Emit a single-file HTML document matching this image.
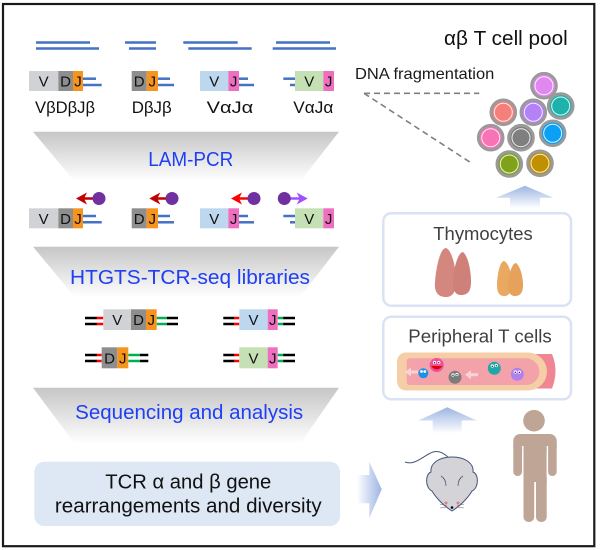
<!DOCTYPE html>
<html><head><meta charset="utf-8"><style>
html,body{margin:0;padding:0;background:#fff;}
svg{display:block;}
text{font-family:"Liberation Sans",Arial,sans-serif;}
</style></head><body>
<svg width="600" height="550" viewBox="0 0 600 550" xmlns="http://www.w3.org/2000/svg">
<defs>
<linearGradient id="fun" x1="0" y1="0" x2="0" y2="1"><stop offset="0" stop-color="#c6c6c6"/><stop offset="1" stop-color="#ffffff"/></linearGradient>
<linearGradient id="upg" x1="0" y1="0" x2="0" y2="1"><stop offset="0" stop-color="#9db5e2"/><stop offset="1" stop-color="#ffffff"/></linearGradient>
<linearGradient id="rtg" x1="0" y1="0" x2="1" y2="0"><stop offset="0" stop-color="#ffffff"/><stop offset="1" stop-color="#9db5e2"/></linearGradient>
</defs>
<rect x="0" y="0" width="600" height="550" fill="#fff"/>
<rect x="3" y="4" width="591.3" height="542.2" fill="none" stroke="#1a1a1a" stroke-width="2.2"/>

<!-- top blue DNA lines -->
<g stroke="#4472c4" stroke-width="2.5">
<line x1="36" y1="42.5" x2="90" y2="42.5"/><line x1="36" y1="48.5" x2="99" y2="48.5"/>
<line x1="125" y1="42.5" x2="156" y2="42.5"/><line x1="129" y1="48.5" x2="156" y2="48.5"/>
<line x1="183.3" y1="42.5" x2="237.7" y2="42.5"/><line x1="188.3" y1="48.5" x2="251.7" y2="48.5"/>
<line x1="276" y1="42.5" x2="330" y2="42.5"/><line x1="272.7" y1="48.5" x2="336" y2="48.5"/>
</g>

<!-- gene row A and row B -->
<g id="rowA">
<rect x="29" y="71" width="29.3" height="20" fill="#d1d2d6"/>
<rect x="58.3" y="71" width="14.7" height="20" fill="#8e8e8e"/>
<rect x="73" y="71" width="10" height="20" fill="#f7941d"/>
<rect x="131.7" y="71" width="15" height="20" fill="#8e8e8e"/>
<rect x="146.7" y="71" width="11.3" height="20" fill="#f7941d"/>
<rect x="200" y="71" width="28.3" height="20" fill="#bdd7ee"/>
<rect x="228.3" y="71" width="10.7" height="20" fill="#f06ec0"/>
<rect x="295" y="71" width="28.3" height="20" fill="#c5e0b4"/>
<rect x="323.3" y="71" width="10.7" height="20" fill="#f06ec0"/>
<g stroke="#4472c4" stroke-width="2.5">
<line x1="83" y1="78.7" x2="96" y2="78.7"/><line x1="83" y1="85" x2="101.7" y2="85"/>
<line x1="158" y1="78.7" x2="170" y2="78.7"/><line x1="158" y1="85" x2="174" y2="85"/>
<line x1="239" y1="78.7" x2="248" y2="78.7"/><line x1="239" y1="85" x2="254" y2="85"/>
<line x1="283.3" y1="78.7" x2="295" y2="78.7"/><line x1="290" y1="85" x2="295" y2="85"/>
</g>
<g font-size="15" fill="#111" text-anchor="middle">
<text x="43.6" y="86.5">V</text><text x="65.6" y="86.5">D</text><text x="78" y="86.5">J</text>
<text x="139.2" y="86.5">D</text><text x="152.3" y="86.5">J</text>
<text x="214.2" y="86.5">V</text><text x="233.6" y="86.5">J</text>
<text x="309.2" y="86.5">V</text><text x="328.6" y="86.5">J</text>
</g>
</g>
<use href="#rowA" transform="translate(0,137.3)"/>

<!-- labels -->
<g font-size="17" fill="#111" text-anchor="middle">
<text x="65" y="113" textLength="60" lengthAdjust="spacingAndGlyphs">VβDβJβ</text>
<text x="151.7" y="113" textLength="40" lengthAdjust="spacingAndGlyphs">DβJβ</text>
<text x="230" y="113" textLength="46.6" lengthAdjust="spacingAndGlyphs">VαJα</text>
<text x="313.3" y="113" textLength="40" lengthAdjust="spacingAndGlyphs">VαJα</text>
</g>

<!-- funnels -->
<polygon points="33,131.7 339,131.7 300,181.7 75,181.7" fill="url(#fun)"/>
<polygon points="33,246.7 339,246.7 300,297.3 75,297.3" fill="url(#fun)"/>
<polygon points="33,387.7 339,387.7 300,444 75,444" fill="url(#fun)"/>
<g fill="#1e3ff5" font-size="20" text-anchor="middle">
<text x="190.8" y="166" textLength="85" lengthAdjust="spacingAndGlyphs">LAM-PCR</text>
<text x="190" y="284" textLength="240" lengthAdjust="spacingAndGlyphs">HTGTS-TCR-seq libraries</text>
<text x="189.2" y="419" textLength="228" lengthAdjust="spacingAndGlyphs">Sequencing and analysis</text>
</g>

<!-- primer arrows -->
<g>
<line x1="84" y1="198.5" x2="94" y2="198.5" stroke="#c00000" stroke-width="2.5"/>
<polygon points="76,198.5 87,192.5 84,198.5 87,204.5" fill="#c00000"/>
<circle cx="99" cy="198.5" r="6.5" fill="#7030a0"/>
<line x1="157.3" y1="198.5" x2="167" y2="198.5" stroke="#c00000" stroke-width="2.5"/>
<polygon points="149.3,198.5 160.3,192.5 157.3,198.5 160.3,204.5" fill="#c00000"/>
<circle cx="172" cy="198.5" r="6.5" fill="#7030a0"/>
<line x1="239" y1="198.5" x2="249" y2="198.5" stroke="#ff0000" stroke-width="2.5"/>
<polygon points="231,198.5 242,192.5 239,198.5 242,204.5" fill="#ff0000"/>
<circle cx="254" cy="198.5" r="6.5" fill="#7030a0"/>
<line x1="289" y1="198.5" x2="300" y2="198.5" stroke="#a050ff" stroke-width="2.5"/>
<polygon points="307.7,198.5 296.7,192.5 299.7,198.5 296.7,204.5" fill="#a050ff"/>
<circle cx="284.3" cy="198.5" r="6.5" fill="#7030a0"/>
</g>

<!-- libraries -->
<g stroke-width="2.5">
<!-- row1 VDJ -->
<line x1="85" y1="318" x2="97" y2="318" stroke="#000"/><line x1="85" y1="324" x2="97" y2="324" stroke="#000"/>
<line x1="96.7" y1="318" x2="103.3" y2="318" stroke="#f00"/><line x1="96.7" y1="324" x2="103.3" y2="324" stroke="#f00"/>
<line x1="156.7" y1="318" x2="167.5" y2="318" stroke="#00b050"/><line x1="156.7" y1="324" x2="167.5" y2="324" stroke="#00b050"/>
<line x1="167" y1="318" x2="178" y2="318" stroke="#000"/><line x1="167" y1="324" x2="178" y2="324" stroke="#000"/>
<!-- row1 VJ -->
<line x1="223.3" y1="318" x2="234.5" y2="318" stroke="#000"/><line x1="223.3" y1="324" x2="234.5" y2="324" stroke="#000"/>
<line x1="234" y1="318" x2="239.3" y2="318" stroke="#f00"/><line x1="234" y1="324" x2="239.3" y2="324" stroke="#f00"/>
<line x1="277.7" y1="318" x2="283.8" y2="318" stroke="#00b050"/><line x1="277.7" y1="324" x2="283.8" y2="324" stroke="#00b050"/>
<line x1="283.3" y1="318" x2="295" y2="318" stroke="#000"/><line x1="283.3" y1="324" x2="295" y2="324" stroke="#000"/>
<!-- row2 DJ -->
<line x1="85" y1="355" x2="97" y2="355" stroke="#000"/><line x1="85" y1="361" x2="97" y2="361" stroke="#000"/>
<line x1="96.7" y1="355" x2="101.7" y2="355" stroke="#f00"/><line x1="96.7" y1="361" x2="101.7" y2="361" stroke="#f00"/>
<line x1="128.3" y1="355" x2="140.5" y2="355" stroke="#00b050"/><line x1="128.3" y1="361" x2="140.5" y2="361" stroke="#00b050"/>
<line x1="140" y1="355" x2="148.3" y2="355" stroke="#000"/><line x1="140" y1="361" x2="148.3" y2="361" stroke="#000"/>
<!-- row2 VJ -->
<line x1="223.3" y1="355" x2="234.5" y2="355" stroke="#000"/><line x1="223.3" y1="361" x2="234.5" y2="361" stroke="#000"/>
<line x1="234" y1="355" x2="239.3" y2="355" stroke="#f00"/><line x1="234" y1="361" x2="239.3" y2="361" stroke="#f00"/>
<line x1="277.7" y1="355" x2="283.8" y2="355" stroke="#00b050"/><line x1="277.7" y1="361" x2="283.8" y2="361" stroke="#00b050"/>
<line x1="283.3" y1="355" x2="295" y2="355" stroke="#000"/><line x1="283.3" y1="361" x2="295" y2="361" stroke="#000"/>
</g>
<rect x="103.3" y="309.3" width="27.7" height="20.7" fill="#d1d2d6"/>
<rect x="131" y="309.3" width="15" height="20.7" fill="#8e8e8e"/>
<rect x="146" y="309.3" width="10.7" height="20.7" fill="#f7941d"/>
<rect x="239.3" y="309.3" width="28.4" height="20.7" fill="#bdd7ee"/>
<rect x="267.7" y="309.3" width="10" height="20.7" fill="#f06ec0"/>
<rect x="101.7" y="347.3" width="15.6" height="21" fill="#8e8e8e"/>
<rect x="117.3" y="347.3" width="11" height="21" fill="#f7941d"/>
<rect x="239.3" y="347.3" width="28.4" height="21" fill="#c5e0b4"/>
<rect x="267.7" y="347.3" width="10" height="21" fill="#f06ec0"/>
<g font-size="15" fill="#111" text-anchor="middle">
<text x="117.2" y="325">V</text><text x="138.5" y="325">D</text><text x="151.3" y="325">J</text>
<text x="253.5" y="325">V</text><text x="272.7" y="325">J</text>
<text x="109.5" y="363.3">D</text><text x="122.8" y="363.3">J</text>
<text x="253.5" y="363.3">V</text><text x="272.7" y="363.3">J</text>
</g>

<!-- TCR box -->
<rect x="34.3" y="461.7" width="305.7" height="64.3" rx="10" fill="#dde8f4"/>
<g font-size="20.5" fill="#111" text-anchor="middle">
<text x="188.3" y="488.3" textLength="166" lengthAdjust="spacingAndGlyphs">TCR α and β gene</text>
<text x="188.3" y="512.7" textLength="266.7" lengthAdjust="spacingAndGlyphs">rearrangements and diversity</text>
</g>

<!-- right arrow -->
<polygon points="356.7,475 369.3,475 369.3,461.7 381.7,489.3 369.3,518.3 369.3,503.3 356.7,503.3" fill="url(#rtg)"/>

<!-- right column text -->
<text x="444" y="45" font-size="20" fill="#111" textLength="123.7" lengthAdjust="spacingAndGlyphs">αβ T cell pool</text>
<text x="355" y="79" font-size="16" fill="#1a1a1a" textLength="139.3" lengthAdjust="spacingAndGlyphs">DNA fragmentation</text>
<g stroke="#808080" stroke-width="1.6" stroke-dasharray="6,4" fill="none">
<line x1="364" y1="93.3" x2="479.3" y2="93.3"/>
<line x1="364" y1="93.3" x2="471.7" y2="163.3"/>
</g>

<!-- cells -->
<g stroke="#9a9a9a" stroke-width="3">
<circle cx="544" cy="85.7" r="12.3" fill="#e087f0"/>
<circle cx="503.3" cy="112.3" r="12.3" fill="#f47f7b"/>
<circle cx="533.3" cy="112.3" r="12.3" fill="#b482f5"/>
<circle cx="560.7" cy="106" r="12.3" fill="#1db3ac"/>
<circle cx="490.7" cy="137.7" r="12.3" fill="#f773b5"/>
<circle cx="521" cy="137.7" r="12.3" fill="#7f7f7f"/>
<circle cx="552.7" cy="133.3" r="12.3" fill="#0ca0f4"/>
<circle cx="509.3" cy="164" r="12.3" fill="#7fa21a"/>
<circle cx="540" cy="163.3" r="12.3" fill="#bf9000"/>
</g>
<g stroke="#ffffff" stroke-width="1" fill="none" opacity="0.85">
<circle cx="544" cy="85.7" r="9"/><circle cx="503.3" cy="112.3" r="9"/><circle cx="533.3" cy="112.3" r="9"/>
<circle cx="560.7" cy="106" r="9"/><circle cx="490.7" cy="137.7" r="9"/><circle cx="521" cy="137.7" r="9"/>
<circle cx="552.7" cy="133.3" r="9"/><circle cx="509.3" cy="164" r="9"/><circle cx="540" cy="163.3" r="9"/>
</g>

<!-- up arrows -->
<polygon points="525,185.7 553.3,197.7 540,197.7 540,208.3 510,208.3 510,197.7 496,197.7" fill="url(#upg)"/>
<polygon points="447.3,407.3 476.7,420.5 461.7,420.5 461.7,433.3 432.7,433.3 432.7,420.5 418.3,420.5" fill="url(#upg)"/>

<!-- Thymocytes box -->
<rect x="383.3" y="213.3" width="187.7" height="92.4" rx="8" fill="#fff" stroke="#dae3f3" stroke-width="2.5"/>
<text x="483" y="240" font-size="18.4" fill="#404040" text-anchor="middle" textLength="99.4" lengthAdjust="spacingAndGlyphs">Thymocytes</text>
<path d="M446,248 C452,250 456,268 456,280 C457,292 452,297 446,297 C438,297 434,292 435,282 C436,268 440,248 446,248Z" fill="#d4877f"/>
<path d="M463,252 C468,256 471,270 471,282 C471,292 467,295 461,295 C455,295 453,290 453,282 C453,270 458,252 463,252Z" fill="#cf8179"/>
<path d="M504,261 C509,263 512,275 512,284 C512,293 508,296 504,296 C499,296 497,292 497,285 C497,275 500,261 504,261Z" fill="#eaa960"/>
<path d="M516,263 C520,266 523,276 523,285 C523,293 520,296 515,296 C510,296 508,292 508,285 C508,276 512,263 516,263Z" fill="#e6a25a"/>

<!-- Peripheral box -->
<rect x="383.3" y="316.7" width="187.7" height="82.6" rx="8" fill="#fff" stroke="#dae3f3" stroke-width="2.5"/>
<text x="480" y="342.3" font-size="18.4" fill="#404040" text-anchor="middle" textLength="143.4" lengthAdjust="spacingAndGlyphs">Peripheral T cells</text>
<!-- vessel -->
<path d="M520,354 H552 Q559,371 552,388.5 H520 Z" fill="#f08694"/>
<path d="M407,352.5 H528 A19,19 0 0 1 528,390.5 H407 Q397,390.5 397,380 V363 Q397,352.5 407,352.5Z" fill="#f5cda6"/>
<path d="M410,358.3 H526 A13.35,13.35 0 0 1 526,385 H410 Q406.7,385 406.7,381.7 V361.6 Q406.7,358.3 410,358.3Z" fill="#f4a2aa"/>
<g fill="#fbd2d8">
<polygon points="405,372 411,367.5 411,370.5 418,370.5 418,373.5 411,373.5 411,376.5"/>
<polygon points="465,374.7 471,370.2 471,373.2 478,373.2 478,376.2 471,376.2 471,379.2"/>
</g>
<circle cx="423.3" cy="373.3" r="5" fill="#1e90e8"/>
<circle cx="436.7" cy="365" r="7" fill="#f0509a"/>
<path d="M431,366 Q436.7,373 442.4,366 Z" fill="#e00000"/>
<circle cx="455" cy="377.3" r="6.5" fill="#7c7c7c"/>
<circle cx="494.3" cy="368.3" r="6.5" fill="#20a8a8"/>
<circle cx="517.3" cy="374.3" r="6.5" fill="#b080f0"/>
<g fill="#fff">
<circle cx="421.5" cy="371.5" r="1.4"/><circle cx="424.8" cy="371.5" r="1.4"/>
<circle cx="434.5" cy="362.5" r="1.6"/><circle cx="438.8" cy="362.5" r="1.6"/>
<circle cx="453" cy="375" r="1.6"/><circle cx="457" cy="374.5" r="1.6"/>
<circle cx="492.3" cy="366" r="1.6"/><circle cx="496.3" cy="365.5" r="1.6"/>
<circle cx="515.3" cy="372" r="1.6"/><circle cx="519.3" cy="372" r="1.6"/>
</g>
<g fill="#111">
<circle cx="434.5" cy="362.8" r="0.7"/><circle cx="438.8" cy="362.8" r="0.7"/>
<circle cx="453" cy="375.3" r="0.7"/><circle cx="457" cy="374.8" r="0.7"/>
<circle cx="492.3" cy="366.3" r="0.7"/><circle cx="496.3" cy="365.8" r="0.7"/>
<circle cx="515.3" cy="372.3" r="0.7"/><circle cx="519.3" cy="372.3" r="0.7"/>
</g>

<!-- mouse -->
<path d="M405,462 C415,466 424,455 433,452 C440,450 446,455 449,458" fill="none" stroke="#445577" stroke-width="1"/>
<path d="M452,457 C466,457 474,464 473,472 C479,474 479,488 472,491 C468,498 460,506 452,511 C444,506 436,498 432,491 C425,488 425,474 431,472 C430,464 438,457 452,457Z" fill="#d3d3d8" stroke="#445577" stroke-width="1"/>
<path d="M441,476 Q446,479 446,486" fill="none" stroke="#556" stroke-width="0.8"/>
<path d="M463,476 Q458,479 458,486" fill="none" stroke="#556" stroke-width="0.8"/>
<circle cx="446" cy="503" r="1.5" fill="#e08080"/><circle cx="458" cy="503" r="1.5" fill="#e08080"/>
<circle cx="452" cy="507.5" r="1.3" fill="#000"/>
<g stroke="#666" stroke-width="0.5">
<line x1="447" y1="506" x2="440" y2="504"/><line x1="447" y1="507" x2="440" y2="508"/>
<line x1="457" y1="506" x2="464" y2="504"/><line x1="457" y1="507" x2="464" y2="508"/>
</g>

<!-- human -->
<g fill="#bfa596">
<circle cx="534" cy="420.7" r="10.8"/>
<rect x="513.3" y="434" width="43.4" height="20" rx="7"/>
<rect x="513.3" y="440" width="8.7" height="36" rx="4.3"/>
<rect x="548" y="440" width="8.7" height="36" rx="4.3"/>
<rect x="523.5" y="434" width="23.2" height="48"/>
<rect x="523.5" y="470" width="10.7" height="52" rx="5"/>
<rect x="536" y="470" width="10.7" height="52" rx="5"/>
</g>
<g stroke="#fff" stroke-width="1.4">
<line x1="522.8" y1="446" x2="522.8" y2="477"/>
<line x1="547.4" y1="446" x2="547.4" y2="477"/>
</g>
</svg>
</body></html>
